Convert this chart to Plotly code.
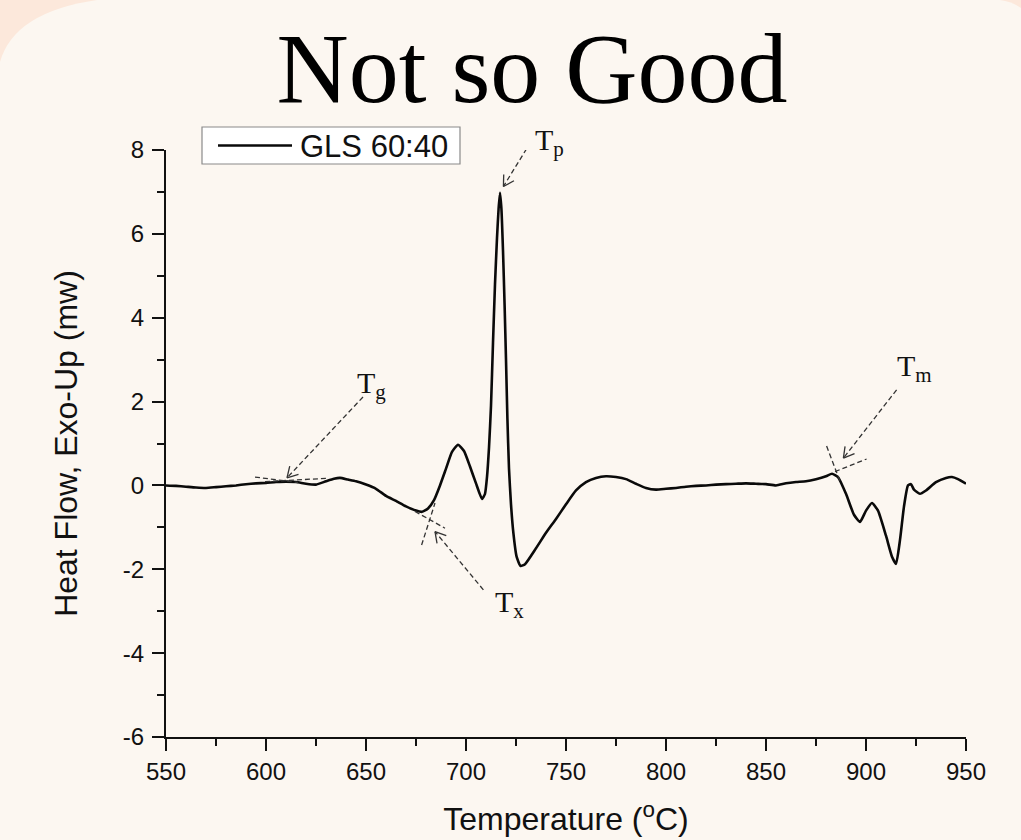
import math
import plotly.graph_objects as go

# ---------------- data ----------------
temperature = [550, 555, 560, 565, 570, 575, 580, 585, 590, 595, 600, 605, 610, 615, 620, 625,
               630, 634, 637, 641, 645, 650, 655, 660, 665, 670, 675, 678, 681, 684, 687, 690,
               693, 696, 699, 702, 705, 708, 709.5, 710.5, 711.5, 712.5, 713.5, 714.5, 715.5,
               716.3, 717, 717.7, 718.5, 719.3, 720, 720.7, 721.5, 722.5, 723.7, 725.3, 727.3,
               729.5, 735, 740, 745, 750, 755, 760, 765, 770, 775, 780, 785, 790, 795, 800,
               805, 810, 815, 820, 825, 830, 835, 840, 845, 850, 855, 860, 865, 870, 875, 880,
               883, 886, 890, 894, 897, 900, 903, 906, 910, 913, 915, 917, 919, 921, 922.5,
               924, 927, 930, 935, 940, 943, 946, 950]
heat_flow = [0.0, -0.01, -0.03, -0.05, -0.06, -0.04, -0.02, 0.0, 0.03, 0.05, 0.06, 0.08, 0.09,
             0.08, 0.04, 0.02, 0.1, 0.16, 0.18, 0.14, 0.1, 0.02, -0.08, -0.25, -0.37, -0.5,
             -0.6, -0.63, -0.55, -0.35, 0.0, 0.4, 0.8, 0.97, 0.82, 0.45, 0.05, -0.32, -0.2,
             0.2, 0.9, 1.9, 3.4, 4.8, 5.9, 6.6, 6.98, 6.6, 5.6, 4.3, 3.0, 1.6, 0.4, -0.45,
             -1.14, -1.7, -1.92, -1.88, -1.5, -1.13, -0.8, -0.45, -0.12, 0.08, 0.18, 0.22,
             0.2, 0.15, 0.04, -0.06, -0.1, -0.08, -0.06, -0.03, -0.01, 0.0, 0.02, 0.03,
             0.04, 0.05, 0.04, 0.03, 0.0, 0.05, 0.08, 0.1, 0.15, 0.22, 0.28, 0.2, -0.2,
             -0.7, -0.87, -0.6, -0.42, -0.6, -1.2, -1.7, -1.87, -1.3, -0.5, 0.0, 0.03, -0.1,
             -0.2, -0.12, 0.08, 0.18, 0.2, 0.15, 0.04]
series_name = "GLS 60:40"
x_ticks = [550, 600, 650, 700, 750, 800, 850, 900, 950]
y_ticks = [-6, -4, -2, 0, 2, 4, 6, 8]
y_tick_text = ["-6", "-4", "-2", "0", "2", "4", "6", "8"]

# ---------------- geometry helpers ----------------
W, H = 1021, 840
ML, MR, MT, MB = 166, 55, 150, 103
X_RANGE = [550, 950]
Y_RANGE = [-6, 8]
PW, PH = W - ML - MR, H - MT - MB
SX = PW / (X_RANGE[1] - X_RANGE[0])
SY = PH / (Y_RANGE[1] - Y_RANGE[0])


def px2paper(px, py):
    return (px - ML) / PW, (H - MB - py) / PH


def data2paper(x, y):
    return (x - X_RANGE[0]) / (X_RANGE[1] - X_RANGE[0]), (y - Y_RANGE[0]) / (Y_RANGE[1] - Y_RANGE[0])


fig = go.Figure()
fig.add_trace(go.Scatter(
    x=temperature, y=heat_flow, mode="lines", name=series_name, showlegend=False,
    line=dict(color="#0a0a0a", width=2.6, shape="spline", smoothing=0.5),
))

shapes = []

# slide background: cream panel with rounded top corners over a peach backdrop
path = "M {:.4f},{:.4f} L {:.4f},{:.4f} ".format(*px2paper(0, H), *px2paper(0, 62))
cx, cy = px2paper(14, 12)
ex, ey = px2paper(97, 0)
path += "Q {:.4f},{:.4f} {:.4f},{:.4f} ".format(cx, cy, ex, ey)
path += "L {:.4f},{:.4f} ".format(*px2paper(1000, 0))
cx, cy = px2paper(1013, 2)
ex, ey = px2paper(W, 8)
path += "Q {:.4f},{:.4f} {:.4f},{:.4f} ".format(cx, cy, ex, ey)
path += "L {:.4f},{:.4f} Z".format(*px2paper(W, H))
shapes.append(dict(type="path", xref="paper", yref="paper", path=path,
                   fillcolor="#fcf7f1", line=dict(width=0), layer="below"))

dash_style = dict(color="#333333", width=1.3, dash="5px,3px")


def dline(x0, y0, x1, y1):
    shapes.append(dict(type="line", xref="x", yref="y", x0=x0, y0=y0, x1=x1, y1=y1,
                       line=dash_style, layer="above"))


def arrow(tail, head):
    dline(tail[0], tail[1], head[0], head[1])
    # open V arrowhead computed in pixel space
    dxp = (tail[0] - head[0]) * SX
    dyp = (tail[1] - head[1]) * SY
    ang = math.atan2(dyp, dxp)
    L = 12
    for s in (-1, 1):
        a = ang + s * math.radians(30)
        hx = head[0] + L * math.cos(a) / SX
        hy = head[1] + L * math.sin(a) / SY
        shapes.append(dict(type="line", xref="x", yref="y", x0=head[0], y0=head[1],
                           x1=hx, y1=hy, line=dict(color="#333333", width=1.3),
                           layer="above"))


# Tg
dline(594.5, 0.20, 616, 0.07)
dline(599.5, 0.09, 630.5, 0.17)
arrow((648.5, 2.11), (610.5, 0.18))
# Tx
dline(674.5, -0.62, 689.5, -1.02)
dline(677.8, -1.42, 684.5, -0.42)
arrow((708.7, -2.49), (684.5, -1.1))
# Tp
arrow((730.3, 8.03), (718.7, 7.13))
# Tm
dline(880.3, 0.94, 887.0, 0.10)
dline(884.5, 0.33, 900.3, 0.63)
arrow((915.3, 2.28), (888.7, 0.65))

serif = "Liberation Serif, Times New Roman, serif"
sans = "Liberation Sans, Arial, sans-serif"
labels = [("T<sub>g</sub>", 644.5, 2.40), ("T<sub>x</sub>", 713.7, -2.82),
          ("T<sub>p</sub>", 733.5, 8.20), ("T<sub>m</sub>", 914.5, 2.81)]
annotations = []
for txt, x, y in labels:
    px_, py_ = data2paper(x, y)
    annotations.append(dict(text=txt, x=px_, y=py_, xref="paper", yref="paper",
                            showarrow=False, xanchor="left", yanchor="middle",
                            font=dict(family=serif, size=30, color="#111111")))

# legend box (drawn by hand to match the original's proportions)
lx0, ly0 = px2paper(202, 127)
lx1, ly1 = px2paper(460, 164)
shapes.append(dict(type="rect", xref="paper", yref="paper", x0=lx0, y0=ly0, x1=lx1, y1=ly1,
                   fillcolor="#ffffff", line=dict(color="#8a8a8a", width=1.2), layer="above"))
sx0, sy0 = px2paper(218, 145.5)
sx1, _ = px2paper(292, 145.5)
shapes.append(dict(type="line", xref="paper", yref="paper", x0=sx0, y0=sy0, x1=sx1, y1=sy0,
                   line=dict(color="#0a0a0a", width=2.6), layer="above"))
tx0, ty0 = px2paper(298, 146)
annotations.append(dict(text=series_name, x=tx0, y=ty0, xref="paper", yref="paper",
                        showarrow=False, xanchor="left", yanchor="middle",
                        font=dict(family=sans, size=31, color="#111111")))

axis_common = dict(
    showline=True, linecolor="#111111", linewidth=2, mirror=False,
    ticks="outside", ticklen=12, tickwidth=2, tickcolor="#111111",
    showgrid=False, zeroline=False,
    tickfont=dict(family=sans, size=24, color="#111111"),
)
fig.update_layout(
    width=W, height=H,
    margin=dict(l=ML, r=MR, t=MT, b=MB, autoexpand=False),
    paper_bgcolor="#fce8db",
    plot_bgcolor="rgba(0,0,0,0)",
    shapes=shapes,
    annotations=annotations,
    title=dict(text="Not so Good", x=532 / W, xref="container", xanchor="center",
               y=1 - 67 / H, yref="container", yanchor="middle",
               font=dict(family=serif, size=100, color="#000000")),
    xaxis=dict(range=X_RANGE, tickvals=x_ticks,
               minor=dict(dtick=25, ticklen=7, tickwidth=2, tickcolor="#111111", ticks="outside"),
               title=dict(text="Temperature (<sup>o</sup>C)", standoff=24,
                          font=dict(family=sans, size=32, color="#111111")),
               **axis_common),
    yaxis=dict(range=Y_RANGE, tickvals=y_ticks, ticktext=y_tick_text,
               ticklabelstandoff=3,
               minor=dict(dtick=1, ticklen=7, tickwidth=2, tickcolor="#111111", ticks="outside"),
               title=dict(text="Heat Flow, Exo-Up (mw)", standoff=36,
                          font=dict(family=sans, size=32, color="#111111")),
               **axis_common),
    showlegend=False,
)

fig.write_html("out.html")
